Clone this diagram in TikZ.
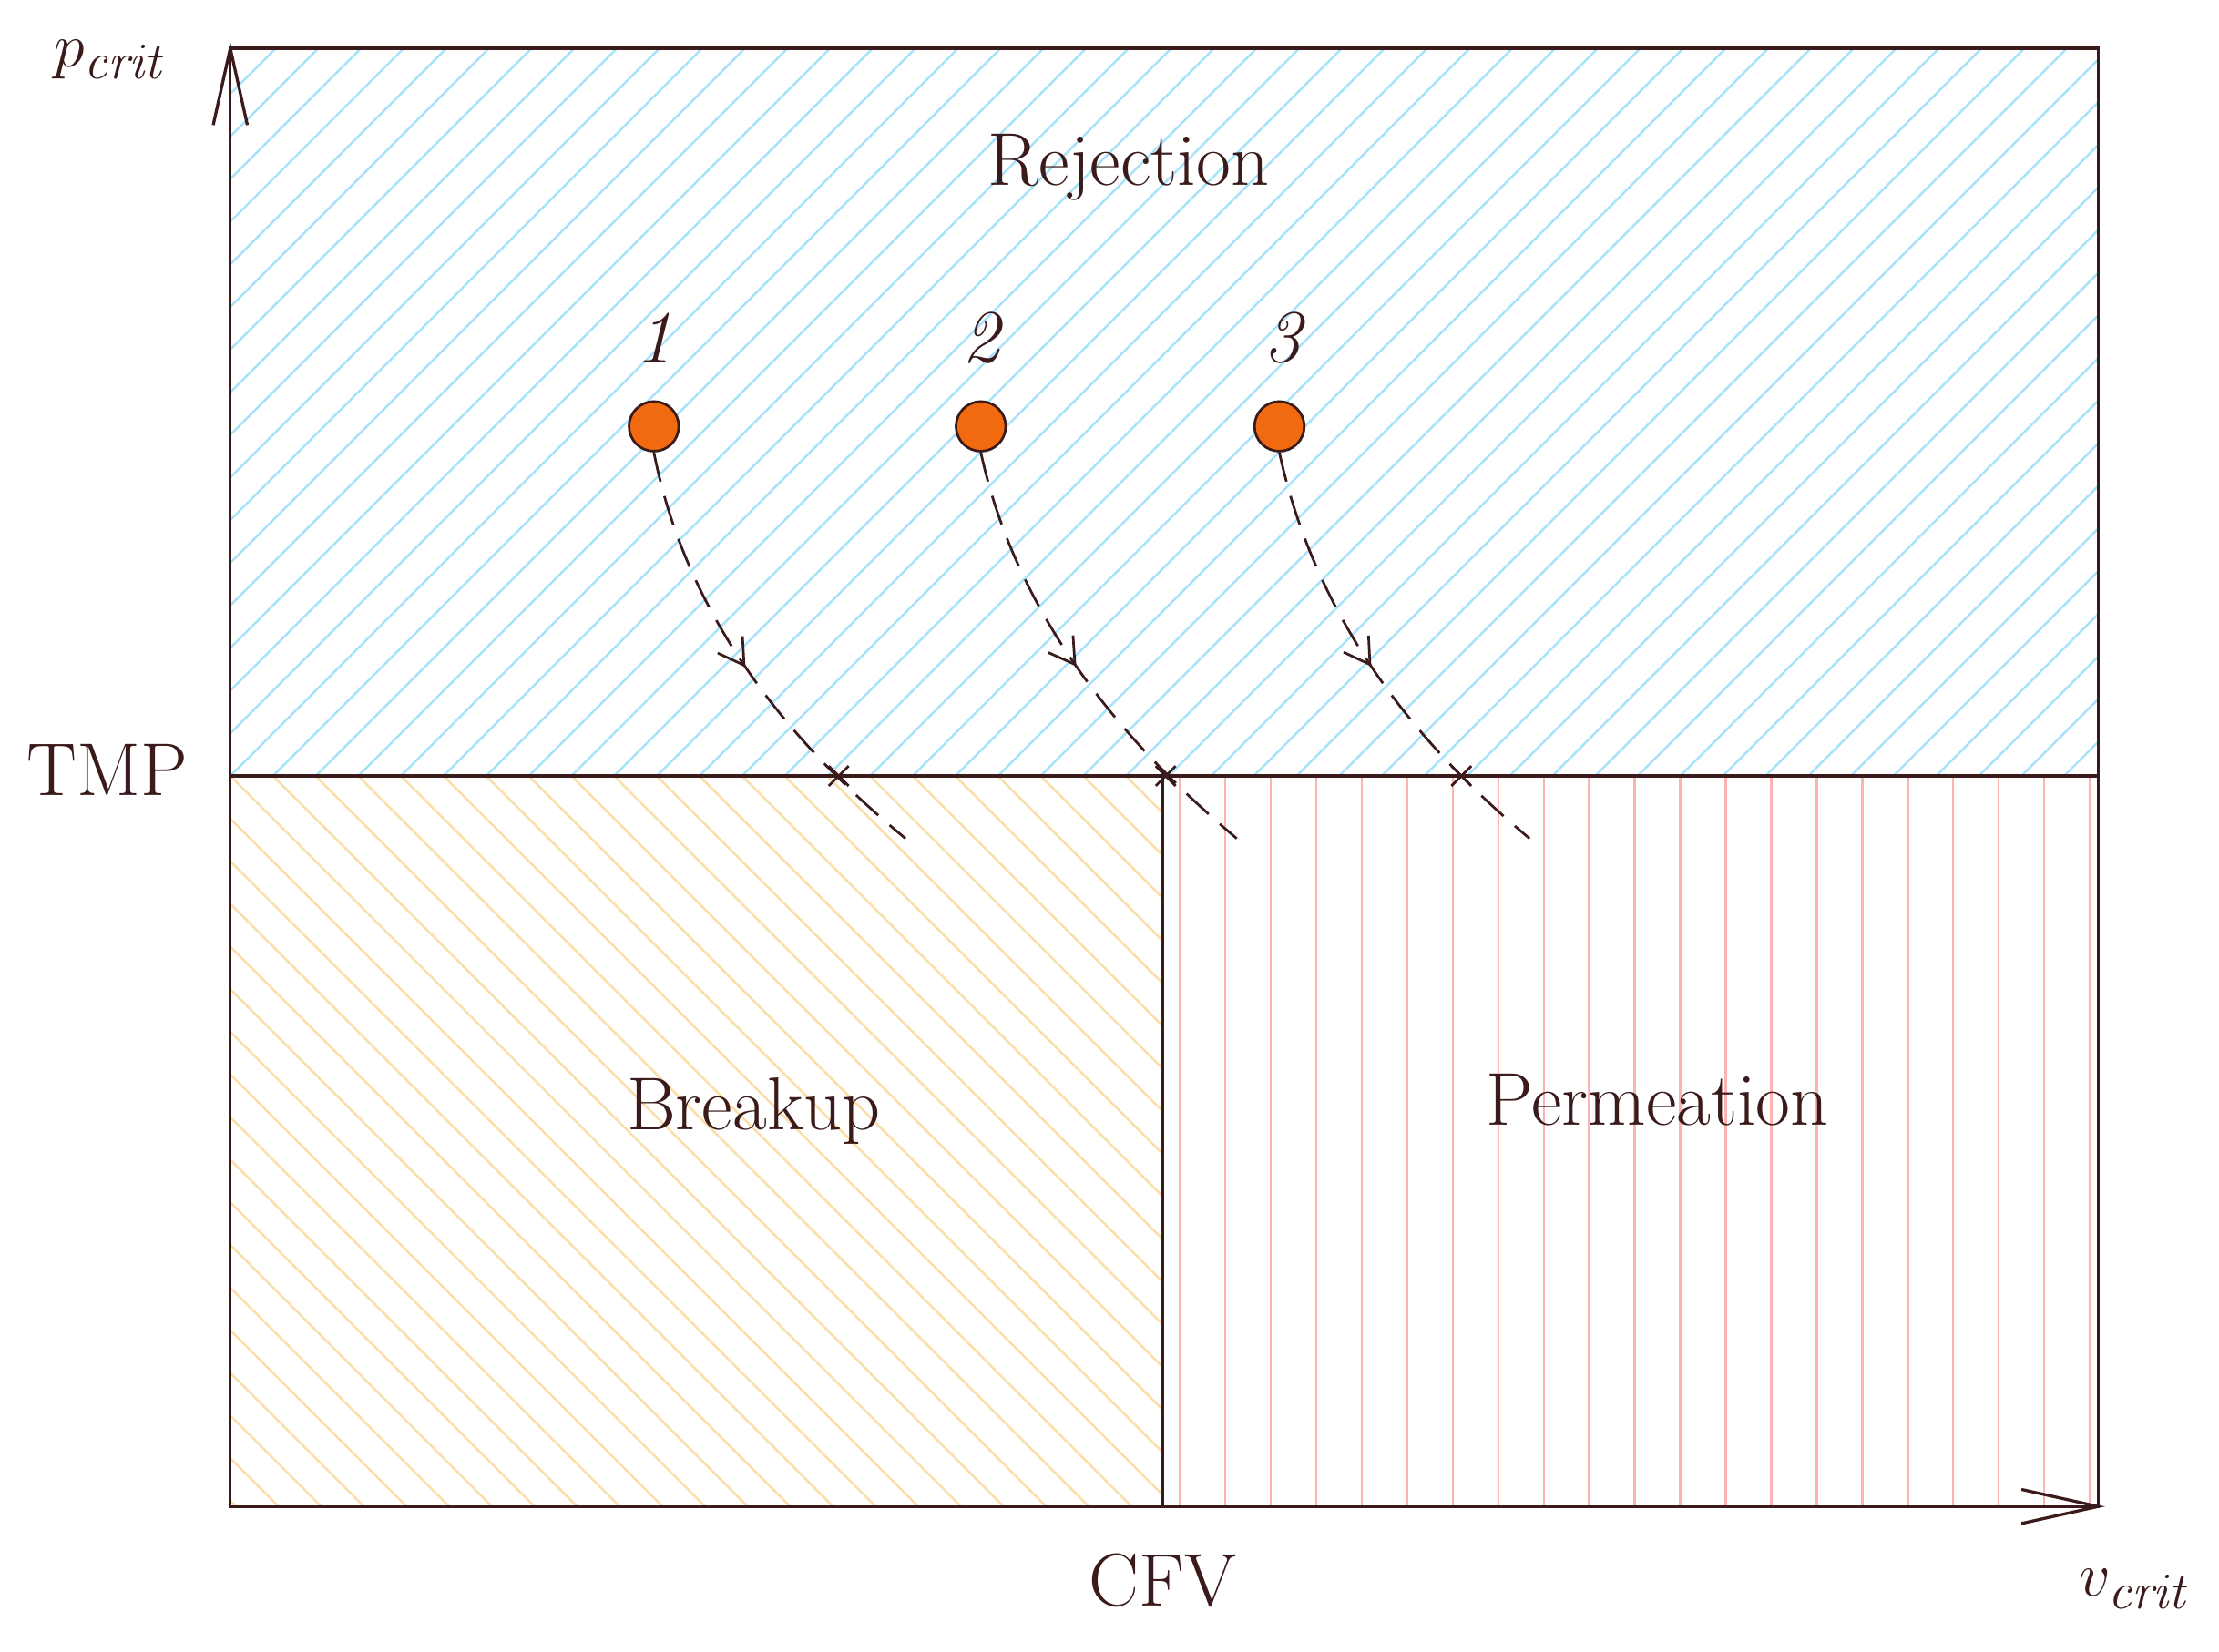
\documentclass[tikz,border=0pt]{standalone}
\usetikzlibrary{decorations.markings,arrows.meta}
\begin{document}
\begin{tikzpicture}[x=0.02cm,y=-0.02cm,
  ink/.style={draw=dbrown,line width=1.2pt},
  lab/.style={text=dbrown,font=\fontsize{30}{36}\selectfont},
  dot/.style={circle,fill=dorange,draw=dbrown,line width=1pt,minimum size=0.7cm,inner sep=0},
  traj/.style={draw=dbrown,line width=1pt,dash pattern=on 12pt off 6pt,
    postaction={decorate},decoration={markings,mark=at position 0.5 with {\arrow[solid]{Straight Barb[length=10pt,width=12pt]}}}},
  cross/.style={draw=dbrown,line width=1pt}]
\definecolor{dbrown}{HTML}{3A1A1A}
\definecolor{dorange}{HTML}{F26A10}
\definecolor{lorange}{HTML}{FBDDA8}
\useasboundingbox (0,0) rectangle (1561,1162);
% hatching
\begin{scope}
\clip (162,34) rectangle (1476,546);
\foreach \i in {-600,-570,...,1500} \draw[cyan!35,line width=0.9pt] (162+\i,546) -- ++(1100,-1100);
\end{scope}
\begin{scope}
\clip (162,546) rectangle (818,1060);
\foreach \i in {-600,-570,...,800} \draw[lorange,line width=0.9pt] (162+\i,546) -- ++(600,600);
\end{scope}
\begin{scope}
\clip (818,546) rectangle (1476,1060);
\foreach \i in {830,862,...,1476} \draw[red!30,line width=0.9pt] (\i,546) -- (\i,1060);
\end{scope}
% frame
\draw[ink] (162,34) rectangle (1476,1060);
\draw[ink] (162,546) -- (1476,546);
\draw[ink] (818,546) -- (818,1060);
\draw[ink] (150,88) -- (162,34) -- (174,88);
\draw[ink] (1422,1048) -- (1476,1060) -- (1422,1072);
% labels
\node[lab,anchor=east] (tmp) at (138,542) {TMP};
\node[lab] (cfv) at (818,1112) {CFV};
\node[lab] (pc) at (78,42) {$p_{\mathit{crit}}$};
\node[lab] (vc) at (1502,1118) {$v_{\mathit{crit}}$};
\node[lab] (rej) at (794,118) {Rejection};
\node[lab] (brk) at (530,782) {Breakup};
\node[lab] (perm) at (1166,774) {Permeation};
% dots
\node[dot] (d1) at (460,300) {};
\node[dot] (d2) at (690,300) {};
\node[dot] (d3) at (900,300) {};
\node[lab] (n1) at (460,238) {\itshape 1};
\node[lab] (n2) at (690,238) {\itshape 2};
\node[lab] (n3) at (902,238) {\itshape 3};
\coordinate (e1) at (637,590);
\coordinate (e2) at (870,590);
\coordinate (e3) at (1076,590);
\draw[traj] (d1.south) .. controls (480,420) and (540,510) .. (e1);
\draw[traj] (d2.south) .. controls (712,420) and (775,510) .. (e2);
\draw[traj] (d3.south) .. controls (922,420) and (980,510) .. (e3);
\foreach \x in {590,820,1028} \draw[cross] (\x-7,539) -- (\x+7,553) (\x-7,553) -- (\x+7,539);
\end{tikzpicture}
\end{document}
